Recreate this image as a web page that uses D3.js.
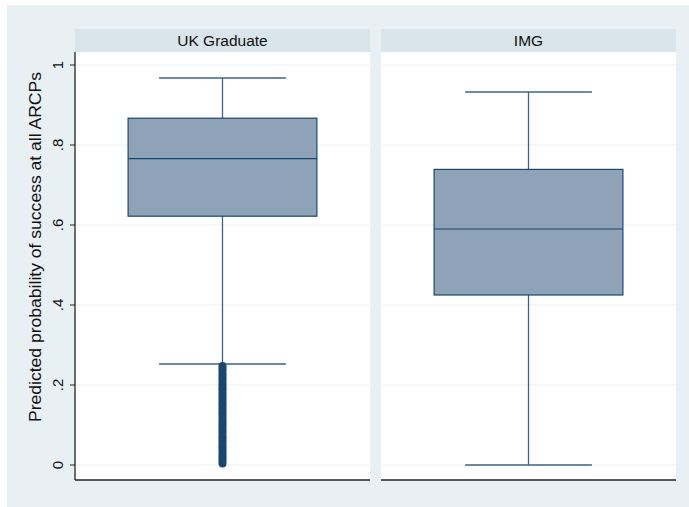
<!DOCTYPE html>
<html>
<head>
<meta charset="utf-8">
<script src="https://cdn.jsdelivr.net/npm/d3@7/dist/d3.min.js"></script>
<style>
  html, body { margin: 0; padding: 0; background: #ffffff; }
  svg { display: block; font-family: "Liberation Sans", Arial, sans-serif; }
</style>
</head>
<body>
<svg id="chart" width="689" height="507"></svg>
<script>
// Graduate groups shown as facets
const groups = ["UK Graduate", "IMG"];

// Box-plot summaries per group: lower whisker, Q1, median, Q3, upper whisker
const lowerWhisker = [0.2525, 0.0];
const q1           = [0.622, 0.425];
const median       = [0.766, 0.590];
const q3           = [0.867, 0.739];
const upperWhisker = [0.9675, 0.9325];

// Outlying predictions below the lower whisker (UK Graduate only)
const outliersUK = [0.004, 0.010, 0.016, 0.022, 0.028, 0.035, 0.041, 0.047, 0.053, 0.060,
  0.066, 0.072, 0.079, 0.085, 0.091, 0.098, 0.104, 0.110, 0.116, 0.123,
  0.129, 0.135, 0.142, 0.148, 0.154, 0.160, 0.167, 0.173, 0.179, 0.186,
  0.192, 0.198, 0.204, 0.211, 0.217, 0.223, 0.229, 0.236, 0.242, 0.2475];
const outliersIMG = [];
const outliers = [outliersUK, outliersIMG];

// Y-axis ticks and labels
const yTicks = [0, 0.2, 0.4, 0.6, 0.8, 1];
const yTickLabels = ["0", ".2", ".4", ".6", ".8", "1"];
const yTitle = "Predicted probability of success at all ARCPs";

const svg = d3.select("#chart");

const C = {
  bg: "#e9f0f3",
  strip: "#d9e5ea",
  grid: "#eaf2f3",
  boxFill: "#8ea3b8",
  navy: "#1a476f",
  whisker: "#3c6589",
  axis: "#222222"
};

// Frame of the plotting region
const plotTop = 52, plotBottom = 480, stripTop = 29;

const x = d3.scaleBand().domain(groups).range([75, 676]).paddingInner(0.036);
const y = d3.scaleLinear().domain([0, 1]).range([465, 65]);

// Graph region background
svg.append("rect").attr("x", 7).attr("y", 5).attr("width", 682).attr("height", 502).attr("fill", C.bg);

const panels = svg.selectAll("g.panel").data(groups).join("g")
  .attr("class", "panel")
  .attr("transform", d => `translate(${x(d)},0)`);

// White plot area and subtitle strip
panels.append("rect")
  .attr("x", 0).attr("y", stripTop)
  .attr("width", x.bandwidth()).attr("height", plotBottom - stripTop)
  .attr("fill", "#ffffff");
panels.append("rect")
  .attr("x", 0).attr("y", stripTop)
  .attr("width", x.bandwidth()).attr("height", plotTop - stripTop)
  .attr("fill", C.strip);
panels.append("text")
  .attr("x", x.bandwidth() / 2).attr("y", stripTop + 17)
  .attr("text-anchor", "middle")
  .attr("font-size", 15.5)
  .attr("fill", "#111")
  .text(d => d);

// Horizontal gridlines
panels.each(function () {
  d3.select(this).selectAll("line.grid").data(yTicks).join("line")
    .attr("class", "grid")
    .attr("x1", 0).attr("x2", x.bandwidth())
    .attr("y1", d => y(d)).attr("y2", d => y(d))
    .attr("stroke", C.grid).attr("stroke-width", 1.2);
});

// Bottom axis line of each panel
panels.append("line")
  .attr("x1", 0).attr("x2", x.bandwidth())
  .attr("y1", plotBottom).attr("y2", plotBottom)
  .attr("stroke", C.axis).attr("stroke-width", 1.3);

// Box-plot marks
const bw = x.bandwidth();
const boxW = bw * 0.64, capW = bw * 0.43;
panels.each(function (d, i) {
  const g = d3.select(this);
  const cx = bw / 2;
  // whiskers
  g.append("line").attr("x1", cx).attr("x2", cx)
    .attr("y1", y(upperWhisker[i])).attr("y2", y(q3[i]))
    .attr("stroke", C.whisker).attr("stroke-width", 1.3);
  g.append("line").attr("x1", cx).attr("x2", cx)
    .attr("y1", y(q1[i])).attr("y2", y(lowerWhisker[i]))
    .attr("stroke", C.whisker).attr("stroke-width", 1.3);
  [upperWhisker[i], lowerWhisker[i]].forEach(v => {
    g.append("line").attr("x1", cx - capW / 2).attr("x2", cx + capW / 2)
      .attr("y1", y(v)).attr("y2", y(v))
      .attr("stroke", C.whisker).attr("stroke-width", 1.3);
  });
  // box
  g.append("rect")
    .attr("x", cx - boxW / 2).attr("y", y(q3[i]))
    .attr("width", boxW).attr("height", y(q1[i]) - y(q3[i]))
    .attr("fill", C.boxFill).attr("stroke", C.navy).attr("stroke-width", 1.2);
  g.append("line").attr("x1", cx - boxW / 2).attr("x2", cx + boxW / 2)
    .attr("y1", y(median[i])).attr("y2", y(median[i]))
    .attr("stroke", C.navy).attr("stroke-width", 1.2);
  // outliers
  g.selectAll("circle.out").data(outliers[i]).join("circle")
    .attr("class", "out")
    .attr("cx", cx).attr("cy", v => y(v)).attr("r", 4)
    .attr("fill", C.navy);
});

// Left y-axis with vertical tick labels
const axisG = svg.append("g").attr("transform", `translate(75,0)`);
axisG.append("line").attr("x1", 0).attr("x2", 0)
  .attr("y1", plotTop).attr("y2", plotBottom)
  .attr("stroke", C.axis).attr("stroke-width", 1.3);
axisG.selectAll("line.tick").data(yTicks).join("line")
  .attr("class", "tick")
  .attr("x1", -5).attr("x2", 0)
  .attr("y1", d => y(d)).attr("y2", d => y(d))
  .attr("stroke", C.axis).attr("stroke-width", 1);
axisG.selectAll("text.tl").data(yTicks).join("text")
  .attr("class", "tl")
  .attr("transform", d => `translate(-12,${y(d)}) rotate(-90)`)
  .attr("text-anchor", "middle")
  .attr("font-size", 15)
  .attr("fill", "#111")
  .text((d, i) => yTickLabels[i]);

// Y-axis title
svg.append("text")
  .attr("transform", `translate(41,247) rotate(-90)`)
  .attr("text-anchor", "middle")
  .attr("font-size", 16)
  .attr("fill", "#111")
  .attr("textLength", 350)
  .attr("lengthAdjust", "spacingAndGlyphs")
  .text(yTitle);
</script>
</body>
</html>
